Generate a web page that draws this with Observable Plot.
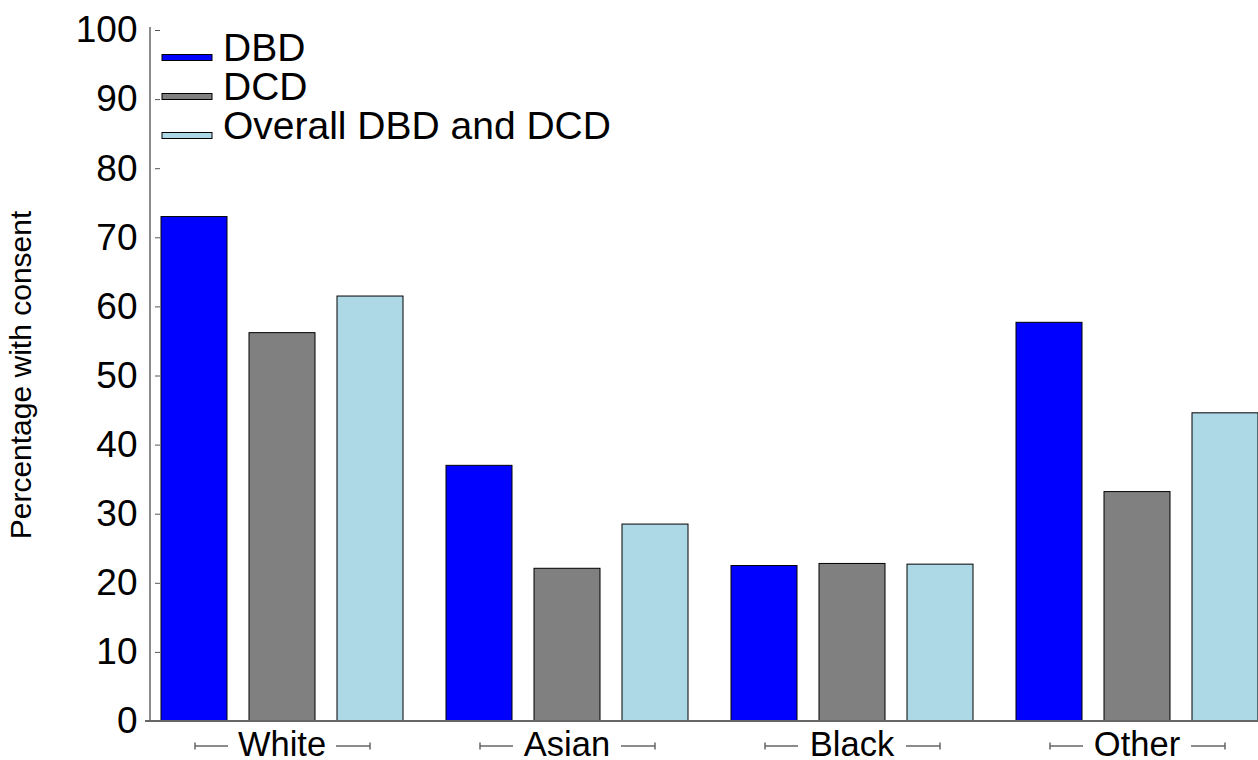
<!DOCTYPE html>
<html>
<head>
<meta charset="utf-8">
<script src="https://cdn.jsdelivr.net/npm/d3@7"></script>
<script src="https://cdn.jsdelivr.net/npm/@observablehq/plot@0.6"></script>
<style>
  html, body { margin: 0; padding: 0; background: white; overflow: hidden; width: 1258px; height: 760px; }
  #chart { position: relative; width: 1258px; height: 760px; overflow: hidden; }
  #chart svg { max-width: none !important; width: 1268px !important; height: 760px !important; }
</style>
</head>
<body>
<div id="chart"></div>
<script>
const groups = ["White", "Asian", "Black", "Other"];
const series = ["DBD", "DCD", "Overall DBD and DCD"];
const dbd = [73.0, 37.0, 22.5, 57.7];
const dcd = [56.2, 22.1, 22.8, 33.2];
const overall = [61.5, 28.5, 22.7, 44.6];
const colors = ["#0000ff", "#808080", "#add8e6"];
const yTicks = [0, 10, 20, 30, 40, 50, 60, 70, 80, 90, 100];
const yTitle = "Percentage with consent";

const values = [dbd, dcd, overall];
const data = groups.flatMap((g, i) => series.map((s, j) => ({group: g, series: s, value: values[j][i]})));

const font = "'Liberation Sans', Arial, Helvetica, sans-serif";

const chart = Plot.plot({
  width: 1268,
  height: 760,
  marginLeft: 150,
  marginRight: 0,
  marginTop: 30,
  marginBottom: 39,
  style: {fontFamily: font, color: "black", background: "white", overflow: "visible"},
  fx: {domain: groups, paddingInner: 42 / 285, paddingOuter: 10 / 285, label: null},
  x: {domain: series, paddingInner: 0.25, paddingOuter: 0, axis: null},
  y: {domain: [0, 100]},
  color: {domain: series, range: colors},
  marks: [
    Plot.barY(data, {fx: "group", x: "series", y: "value", fill: "series", stroke: "black", strokeWidth: 1}),
    Plot.axisY({ticks: yTicks, tickSize: 5, tickPadding: 18, fontSize: 37, stroke: "#555", fill: "black", label: null}),
    Plot.axisFx({anchor: "bottom", tickSize: 0, tickPadding: 10, fontSize: 34.5, fill: "black", label: null})
  ]
});

document.getElementById("chart").appendChild(chart);

const svg = d3.select(chart);
const y = chart.scale("y");
const fx = chart.scale("fx");
const x = chart.scale("x");
const y0 = y.apply(0);
const yTop = y.apply(100);
const axisGray = "#666";

// axis lines
svg.append("line").attr("x1", 145).attr("x2", 1268).attr("y1", y0).attr("y2", y0)
  .attr("stroke", axisGray).attr("stroke-width", 2);
svg.append("line").attr("x1", 150).attr("x2", 150).attr("y1", yTop - 3).attr("y2", y0)
  .attr("stroke", axisGray).attr("stroke-width", 1.5);

// group brackets
const xb = x.bandwidth;
const xr0 = x.range[0];
const yb = y0 + 25;
groups.forEach(g => {
  const s = fx.apply(g);
  const first = s + (x.apply(series[0]) - xr0);
  const last = s + (x.apply(series[series.length - 1]) - xr0);
  const lx1 = first + xb / 2 + 1, lx2 = first + xb + 1;
  const rx1 = last - 1, rx2 = last + xb / 2;
  const gg = svg.append("g").attr("stroke", axisGray).attr("stroke-width", 1.5);
  gg.append("line").attr("x1", lx1).attr("x2", lx2).attr("y1", yb).attr("y2", yb);
  gg.append("line").attr("x1", lx1).attr("x2", lx1).attr("y1", yb - 3.5).attr("y2", yb + 3.5);
  gg.append("line").attr("x1", rx1).attr("x2", rx2).attr("y1", yb).attr("y2", yb);
  gg.append("line").attr("x1", rx2).attr("x2", rx2).attr("y1", yb - 3.5).attr("y2", yb + 3.5);
});

// legend
const lg = svg.append("g").attr("font-family", font).attr("font-size", 39).attr("text-anchor", "start");
series.forEach((s, i) => {
  const base = 61 + i * 39;
  lg.append("rect").attr("x", 162).attr("y", base - 6.5).attr("width", 50).attr("height", 6)
    .attr("fill", colors[i]).attr("stroke", "black").attr("stroke-width", 1);
  lg.append("text").attr("x", 223).attr("y", base).attr("fill", "black").attr("text-anchor", "start").text(s);
});

// y title
svg.append("text")
  .attr("transform", `translate(31,375) rotate(-90)`)
  .attr("text-anchor", "middle")
  .attr("font-family", font)
  .attr("font-size", 30)
  .attr("fill", "black")
  .text(yTitle);
</script>
</body>
</html>
